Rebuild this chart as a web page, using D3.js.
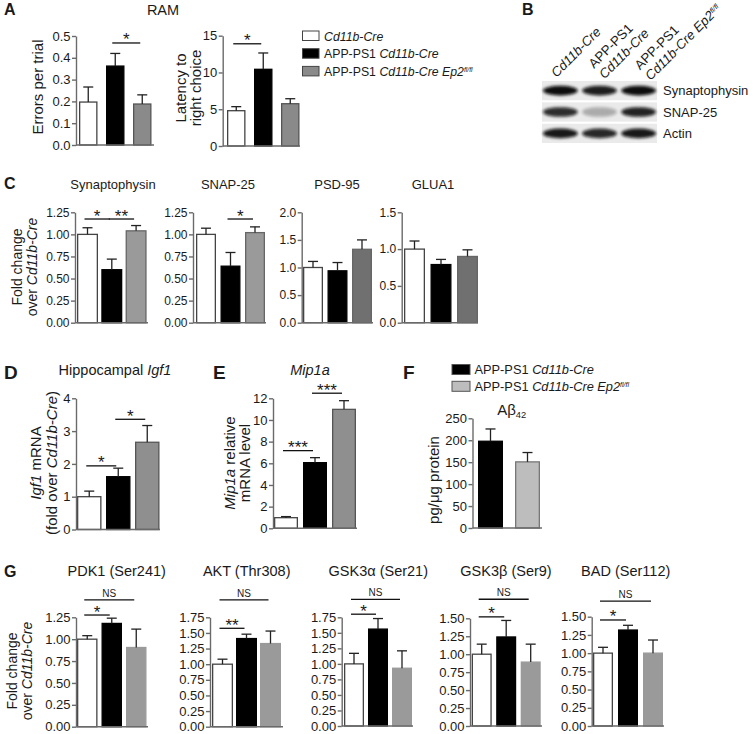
<!DOCTYPE html>
<html>
<head>
<meta charset="utf-8">
<script src="https://cdn.jsdelivr.net/npm/d3@7"></script>
<style>
  body { margin: 0; background: #fff; }
  svg text { font-family: "Liberation Sans", Arial, sans-serif; fill: #1a1a1a; }
  .axis path, .axis line, .base { stroke: #6a6a6a; stroke-width: 1.4px; fill: none; }
  .sig { stroke: #111; stroke-width: 1.3px; }
  .err { stroke: #222; stroke-width: 1.3px; }
</style>
</head>
<body>
<script>
// ---------- data ----------
const groups = ["Cd11b-Cre", "APP-PS1 Cd11b-Cre", "APP-PS1 Cd11b-Cre Ep2fl/fl"];

// A  RAM
const ramErrors = [0.197, 0.362, 0.188];
const ramErrorsSem = [0.069, 0.058, 0.042];
const ramErrorsTicks = [0, 0.1, 0.2, 0.3, 0.4, 0.5];
const ramLatency = [4.8, 10.43, 5.75];
const ramLatencySem = [0.55, 2.22, 0.68];
const ramLatencyTicks = [0, 5, 10, 15];

// B  western blot (relative band density)
const blotRows = ["Synaptophysin", "SNAP-25", "Actin"];
const blotDensity = [[1.0, 0.92, 1.0], [0.85, 0.28, 0.9], [0.95, 0.88, 0.95]];

// C  protein levels
const cTitles = ["Synaptophysin", "SNAP-25", "PSD-95", "GLUA1"];
const cValues = [[1.0, 0.60, 1.04], [1.0, 0.64, 1.02], [1.0, 0.94, 1.33], [1.0, 0.79, 0.90]];
const cSem = [[0.075, 0.12, 0.06], [0.07, 0.155, 0.065], [0.11, 0.15, 0.17], [0.11, 0.07, 0.09]];
const cTicks = [[0, 0.25, 0.5, 0.75, 1, 1.25], [0, 0.25, 0.5, 0.75, 1, 1.25], [0, 0.5, 1, 1.5, 2], [0, 0.5, 1, 1.5]];

// D  Igf1
const igf1 = [1.0, 1.61, 2.66];
const igf1Sem = [0.17, 0.26, 0.51];
const igf1Ticks = [0, 1, 2, 3, 4];

// E  Mip1a
const mip1a = [0.98, 6.06, 10.98];
const mip1aSem = [0.1, 0.46, 0.8];
const mip1aTicks = [0, 2, 4, 6, 8, 10, 12];

// F  Abeta42
const abeta = [197.7, 150.7];
const abetaSem = [28, 21.3];
const abetaTicks = [0, 50, 100, 150, 200, 250];

// G  phosphorylation
const gTitles = ["PDK1 (Ser241)", "AKT (Thr308)", "GSK3α (Ser21)", "GSK3β (Ser9)", "BAD (Ser112)"];
const gValues = [[1.0, 1.18, 0.905], [1.0, 1.41, 1.33], [1.0, 1.56, 0.93], [1.0, 1.24, 0.89], [1.0, 1.317, 1.0]];
const gSem = [[0.04, 0.06, 0.21], [0.08, 0.07, 0.2], [0.17, 0.17, 0.28], [0.14, 0.23, 0.25], [0.08, 0.065, 0.18]];
const gTicks = [[0, 0.25, 0.5, 0.75, 1, 1.25], [0, 0.25, 0.5, 0.75, 1, 1.25, 1.5, 1.75],
                [0, 0.25, 0.5, 0.75, 1, 1.25, 1.5, 1.75], [0, 0.25, 0.5, 0.75, 1, 1.25, 1.5], [0, 0.25, 0.5, 0.75, 1, 1.25, 1.5]];

// significance: [bar a, bar b, level, label]
const ramErrorsSig = [[1, 2, 0.468, "*"]];
const ramLatencySig = [[0, 1, 13.9, "*"]];
const cSig = [[[0, 1, 1.174, "*"], [1, 2, 1.174, "**"]], [[1, 2, 1.174, "*"]], [], []];
const igf1Sig = [[0, 1, 1.94, "*"], [1, 2, 3.36, "*"]];
const mip1aSig = [[0, 1, 7.17, "***"], [1, 2, 12.47, "***"]];
const gSig = [[[0, 1, 1.276, "*"], [0, 2, 1.448, "NS"]], [[0, 1, 1.574, "**"], [0, 2, 2.03, "NS"]],
              [[0, 1, 1.80, "*"], [0, 2, 2.04, "NS"]], [[0, 1, 1.52, "*"], [0, 2, 1.765, "NS"]],
              [[0, 1, 1.455, "*"], [0, 2, 1.715, "NS"]]];

// ---------- drawing ----------
const svg = d3.select("body").append("svg").attr("width", 753).attr("height", 734);
svg.append("defs").append("filter").attr("id", "blur")
  .attr("x", "-30%").attr("y", "-80%").attr("width", "160%").attr("height", "260%")
  .append("feGaussianBlur").attr("stdDeviation", 1.6);

// text made of parts: [string, style] where style is "", "i", "sup", "sub"
function rich(t, parts) {
  parts.forEach(([s, st]) => {
    const sp = t.append("tspan").text(s);
    if (st.indexOf("i") >= 0) sp.style("font-style", "italic");
    if (st === "sup") sp.attr("dy", "-0.55em").style("font-size", "0.55em").style("font-style", "italic");
    if (st === "sub") sp.attr("dy", "0.35em").style("font-size", "0.62em");
  });
  return t;
}
function txt(x, y, parts, size, opt) {
  opt = opt || {};
  const t = svg.append("text").attr("x", x).attr("y", y)
    .attr("text-anchor", opt.anchor || "middle")
    .style("font-size", size + "px")
    .style("font-weight", opt.bold ? "bold" : null);
  if (typeof parts === "string") parts = [[parts, ""]];
  return rich(t, parts);
}
function ylabel(x, cy, lines, size, lh) {
  const g = svg.append("g").attr("transform", `translate(${x},${cy}) rotate(-90)`);
  lines.forEach((parts, k) => {
    const t = g.append("text").attr("x", 0).attr("y", k * lh)
      .attr("text-anchor", "middle").style("font-size", size + "px");
    rich(t, typeof parts === "string" ? [[parts, ""]] : parts);
  });
}

function barChart(c) {
  const g = svg.append("g");
  const n = c.values.length;
  const y = d3.scaleLinear().domain([0, c.ticks[c.ticks.length - 1]]).range([c.base, c.top]);
  const x = d3.scaleBand().domain(d3.range(n))
    .range([c.left, c.left + c.step * (n - 1) + c.bw])
    .paddingInner(1 - c.bw / c.step).paddingOuter(0);
  const bw = x.bandwidth();
  const cx = i => x(i) + bw / 2;

  g.selectAll("rect").data(c.values).join("rect")
    .attr("x", (d, i) => x(i) + 0.65).attr("width", bw - 1.3)
    .attr("y", d => y(d)).attr("height", d => y(0) - y(d))
    .attr("fill", (d, i) => c.fills[i])
    .attr("stroke", (d, i) => c.strokes[i])
    .attr("stroke-width", 1.3);

  const e = g.selectAll("g.eb").data(c.values).join("g").attr("class", "eb");
  e.append("line").attr("class", "err")
    .attr("x1", (d, i) => cx(i)).attr("x2", (d, i) => cx(i))
    .attr("y1", d => y(d)).attr("y2", (d, i) => y(d + c.sem[i]));
  e.append("line").attr("class", "err")
    .attr("x1", (d, i) => cx(i) - 5).attr("x2", (d, i) => cx(i) + 5)
    .attr("y1", (d, i) => y(d + c.sem[i])).attr("y2", (d, i) => y(d + c.sem[i]));

  const ax = g.append("g").attr("class", "axis").attr("transform", `translate(${c.axisX},0)`)
    .call(d3.axisLeft(y).tickValues(c.ticks).tickFormat(d3.format(c.fmt))
      .tickSize(4).tickSizeOuter(0).tickPadding(1.5));
  ax.selectAll("text").style("font-size", c.font + "px").attr("fill", "#1a1a1a");
  g.append("line").attr("class", "base")
    .attr("x1", c.axisX).attr("x2", c.end).attr("y1", y(0)).attr("y2", y(0));

  (c.sig || []).forEach(([a, b, lv, lab]) => {
    const yy = y(lv), x1 = cx(a) - 3, x2 = cx(b) - 2;
    g.append("line").attr("class", "sig").attr("x1", x1).attr("x2", x2).attr("y1", yy).attr("y2", yy);
    const t = g.append("text").attr("x", (x1 + x2) / 2).attr("text-anchor", "middle").text(lab);
    if (lab === "NS") t.attr("y", yy - 3).style("font-size", "10px");
    else t.attr("y", yy + 2.5).style("font-size", "17px");
  });
}

const WHITE = "#ffffff", BLACK = "#000000";

// ---------- Panel A ----------
txt(4, 15, "A", 16, { anchor: "start", bold: true });
txt(163, 15, "RAM", 14.5);
barChart({ values: ramErrors, sem: ramErrorsSem, ticks: ramErrorsTicks, fmt: ".1f", font: 13,
  axisX: 76, end: 154, top: 36, base: 145, left: 79, bw: 18.5, step: 27,
  fills: [WHITE, BLACK, "#8a8a8a"], strokes: ["#444", "#000", "#555"], sig: ramErrorsSig });
ylabel(43, 87, ["Errors per trial"], 15, 15);
barChart({ values: ramLatency, sem: ramLatencySem, ticks: ramLatencyTicks, fmt: "d", font: 13,
  axisX: 222.7, end: 300, top: 35.7, base: 146, left: 227, bw: 18.5, step: 27,
  fills: [WHITE, BLACK, "#8a8a8a"], strokes: ["#444", "#000", "#555"], sig: ramLatencySig });
ylabel(186, 88, ["Latency to", "right choice"], 15, 15);

// legend A
const legA = [[["Cd11b-Cre", "i"]], [["APP-PS1 ", ""], ["Cd11b-Cre", "i"]],
              [["APP-PS1 ", ""], ["Cd11b-Cre Ep2", "i"], ["fl/fl", "sup"]]];
const legAFill = [WHITE, BLACK, "#8a8a8a"];
legA.forEach((parts, i) => {
  svg.append("rect").attr("x", 302.5).attr("y", 31 + i * 17.7).attr("width", 16.5).attr("height", 9.5)
    .attr("fill", legAFill[i]).attr("stroke", "#444").attr("stroke-width", 1);
  txt(324, 40.5 + i * 17.7, parts, 12.3, { anchor: "start" });
});

// ---------- Panel B ----------
txt(522, 15, "B", 16, { anchor: "start", bold: true });
const bx = d3.scaleBand().domain(d3.range(3)).range([542, 657]).paddingInner(0.06);
const by = d3.scaleBand().domain(blotRows).range([81, 143]).paddingInner(0.1);
blotRows.forEach((r, ri) => {
  svg.append("rect").attr("x", 542).attr("width", 115).attr("y", by(r)).attr("height", by.bandwidth())
    .attr("fill", "#eaeaea");
  svg.selectAll(null).data(blotDensity[ri]).join("ellipse")
    .attr("cx", (d, i) => bx(i) + bx.bandwidth() / 2)
    .attr("cy", by(r) + by.bandwidth() / 2)
    .attr("rx", bx.bandwidth() / 2 - 1).attr("ry", by.bandwidth() * 0.25)
    .attr("fill", "#0a0a0a").attr("opacity", d => d).attr("filter", "url(#blur)");
  txt(663, by(r) + by.bandwidth() / 2 + 4.5, r, 13, { anchor: "start" });
});
const laneLabels = [[[["Cd11b-Cre", "i"]]],
                    [[["APP-PS1", ""]], [["Cd11b-Cre", "i"]]],
                    [[["APP-PS1", ""]], [["Cd11b-Cre Ep2", "i"], ["fl/fl", "sup"]]]];
const laneShift = [-4, 5, 12];
laneLabels.forEach((lines, i) => {
  const g = svg.append("g")
    .attr("transform", `translate(${bx(i) + bx.bandwidth() / 2 + laneShift[i]},${78 + i * 1.5}) rotate(-45)`);
  lines.forEach((parts, k) => {
    const t = g.append("text").attr("x", 0).attr("y", (k - lines.length + 1) * 15)
      .attr("text-anchor", "start").style("font-size", "13.3px");
    rich(t, parts);
  });
});

// ---------- Panel C ----------
txt(4, 189, "C", 16, { anchor: "start", bold: true });
const cLayout = [
  { axisX: 75, end: 148, left: 77, bw: 21, step: 24.3, fmt: ".2f", gray: "#9a9a9a", tx: 113 },
  { axisX: 193, end: 266, left: 196, bw: 20, step: 24.5, fmt: ".2f", gray: "#9a9a9a", tx: 228 },
  { axisX: 301.7, end: 373, left: 303, bw: 20, step: 24.5, fmt: ".1f", gray: "#707070", tx: 337 },
  { axisX: 401.7, end: 478, left: 404, bw: 21, step: 26.5, fmt: ".1f", gray: "#707070", tx: 433 }
];
cLayout.forEach((l, i) => {
  barChart(Object.assign({ values: cValues[i], sem: cSem[i], ticks: cTicks[i], font: 12,
    top: 212.3, base: 322.7, fills: [WHITE, BLACK, l.gray], strokes: ["#444", "#000", "#666"],
    sig: cSig[i] }, l));
  txt(l.tx, 189, cTitles[i], 13);
});
ylabel(22, 267, ["Fold change", [["over ", ""], ["Cd11b-Cre", "i"]]], 14, 15);

// ---------- Panel D ----------
txt(4, 379, "D", 19, { anchor: "start", bold: true });
txt(115, 375, [["Hippocampal ", ""], ["Igf1", "i"]], 14.5);
barChart({ values: igf1, sem: igf1Sem, ticks: igf1Ticks, fmt: "d", font: 13,
  axisX: 76, end: 160, top: 398.3, base: 529.5, left: 77, bw: 24.5, step: 29,
  fills: [WHITE, BLACK, "#8f8f8f"], strokes: ["#444", "#000", "#555"], sig: igf1Sig });
ylabel(41, 463, [[["Igf1", "i"], [" mRNA", ""]], [["(fold over ", ""], ["Cd11b-Cre", "i"], [")", ""]]], 15, 15.5);

// ---------- Panel E ----------
txt(213, 379, "E", 19, { anchor: "start", bold: true });
txt(310, 375, [["Mip1a", "i"]], 14.5);
barChart({ values: mip1a, sem: mip1aSem, ticks: mip1aTicks, fmt: "d", font: 13,
  axisX: 273, end: 357, top: 398.3, base: 528.3, left: 274, bw: 24, step: 29,
  fills: [WHITE, BLACK, "#8f8f8f"], strokes: ["#444", "#000", "#555"], sig: mip1aSig });
ylabel(235, 463, [[["Mip1a", "i"], [" relative", ""]], "mRNA level"], 15, 15);

// ---------- Panel F ----------
txt(403, 379, "F", 19, { anchor: "start", bold: true });
const legF = [[["APP-PS1 ", ""], ["Cd11b-Cre", "i"]], [["APP-PS1 ", ""], ["Cd11b-Cre Ep2", "i"], ["fl/fl", "sup"]]];
const legFFill = [BLACK, "#bdbdbd"];
legF.forEach((parts, i) => {
  svg.append("rect").attr("x", 452).attr("y", 364.5 + i * 16.8).attr("width", 18).attr("height", 10)
    .attr("fill", legFFill[i]).attr("stroke", "#555").attr("stroke-width", 1);
  txt(474.5, 374 + i * 16.8, parts, 12.8, { anchor: "start" });
});
txt(511.7, 415, [["Aβ", ""], ["42", "sub"]], 15);
barChart({ values: abeta, sem: abetaSem, ticks: abetaTicks, fmt: "d", font: 13,
  axisX: 472.5, end: 542, top: 418.3, base: 528, left: 478, bw: 25, step: 37,
  fills: [BLACK, "#bdbdbd"], strokes: ["#000", "#777"] });
ylabel(439, 480, ["pg/μg protein"], 15, 15);

// ---------- Panel G ----------
txt(4, 577, "G", 16, { anchor: "start", bold: true });
const gLayout = [
  { axisX: 76, end: 148, top: 617.3, base: 726.7, left: 77, bw: 20.5, step: 24.5, tx: 116.7 },
  { axisX: 210, end: 283, top: 617.3, base: 726.7, left: 212, bw: 21, step: 24, tx: 246.7 },
  { axisX: 341.7, end: 413, top: 617.3, base: 726, left: 344, bw: 20, step: 24, tx: 378.3 },
  { axisX: 470, end: 542, top: 618.3, base: 726, left: 471.7, bw: 20, step: 24.5, tx: 506 },
  { axisX: 591.7, end: 664, top: 616.7, base: 726, left: 593, bw: 20, step: 25, tx: 625.7 }
];
gLayout.forEach((l, i) => {
  barChart(Object.assign({ values: gValues[i], sem: gSem[i], ticks: gTicks[i], fmt: ".2f", font: 13,
    fills: [WHITE, BLACK, "#9a9a9a"], strokes: ["#444", "#000", "#9a9a9a"], sig: gSig[i] }, l));
  txt(l.tx, 576, gTitles[i], 14.5);
});
ylabel(17, 671, ["Fold change", [["over ", ""], ["Cd11b-Cre", "i"]]], 14, 15);
</script>
</body>
</html>
